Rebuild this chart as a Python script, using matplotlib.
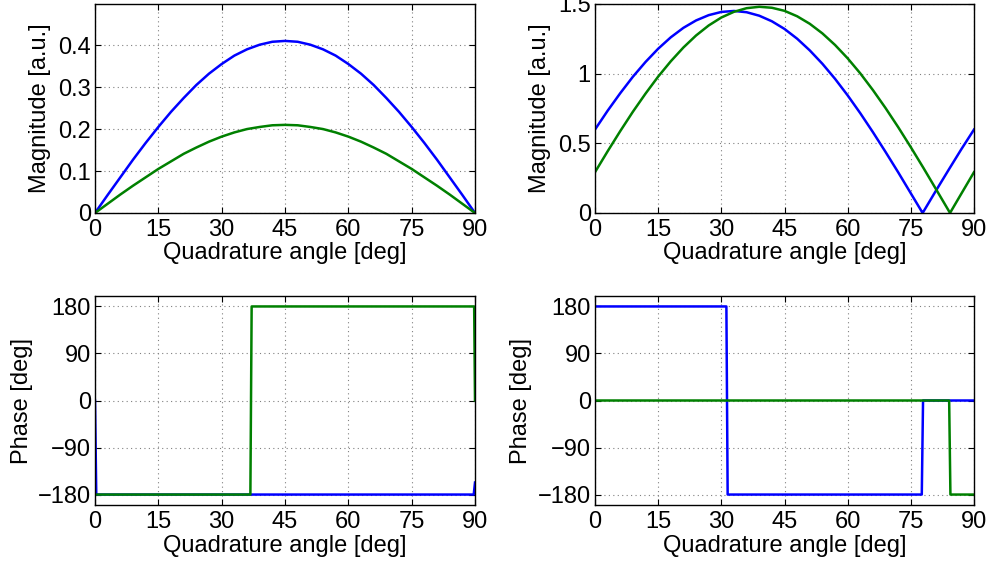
import matplotlib
matplotlib.use("Agg")
import matplotlib.pyplot as plt

plt.rcParams['font.family'] = ['Liberation Sans', 'DejaVu Sans']
plt.rcParams['axes.unicode_minus'] = True

BLUE = (0, 0, 1)
GREEN = (0, 0.5, 0)

# ---- magnitude, left panel ----
mag_l_angle = [0, 3, 6, 9, 12, 15, 18, 21, 24, 27, 30, 33, 36, 39, 42, 45,
               48, 51, 54, 57, 60, 63, 66, 69, 72, 75, 78, 81, 84, 87, 90]
mag_l_blue = [0, 0.043, 0.085, 0.127, 0.167, 0.205, 0.241, 0.274, 0.305, 0.332,
              0.355, 0.375, 0.390, 0.401, 0.408, 0.410, 0.408, 0.401, 0.390,
              0.375, 0.355, 0.332, 0.305, 0.274, 0.241, 0.205, 0.167, 0.127,
              0.085, 0.043, 0]
mag_l_green = [0, 0.022, 0.044, 0.065, 0.085, 0.105, 0.123, 0.141, 0.156, 0.170,
               0.182, 0.192, 0.200, 0.205, 0.209, 0.210, 0.209, 0.205, 0.200,
               0.192, 0.182, 0.170, 0.156, 0.141, 0.123, 0.105, 0.085, 0.065,
               0.044, 0.022, 0]

# ---- magnitude, right panel ----
mag_r_blue_angle = [0, 3, 6, 9, 12, 15, 18, 21, 24, 27, 30, 33, 36, 39, 42, 45,
                    48, 51, 54, 57, 60, 63, 66, 69, 72, 75, 77.8, 78, 81, 84,
                    87, 90]
mag_r_blue = [0.599, 0.734, 0.860, 0.978, 1.084, 1.179, 1.261, 1.329, 1.382,
              1.420, 1.443, 1.450, 1.441, 1.416, 1.376, 1.321, 1.251, 1.167,
              1.071, 0.963, 0.844, 0.716, 0.580, 0.438, 0.292, 0.141, 0.0,
              0.010, 0.162, 0.311, 0.458, 0.599]
mag_r_green_angle = [0, 3, 6, 9, 12, 15, 18, 21, 24, 27, 30, 33, 36, 39, 42, 45,
                     48, 51, 54, 57, 60, 63, 66, 69, 72, 75, 78, 81, 84, 84.3,
                     87, 90]
mag_r_green = [0.293, 0.443, 0.588, 0.727, 0.857, 0.979, 1.089, 1.188, 1.274,
               1.346, 1.403, 1.444, 1.470, 1.480, 1.473, 1.451, 1.412, 1.358,
               1.289, 1.206, 1.110, 1.002, 0.882, 0.753, 0.616, 0.472, 0.323,
               0.170, 0.016, 0.0, 0.139, 0.293]

# ---- phase, left panel ----
ph_l_blue_angle = [0, 0.3, 89.7, 90]
ph_l_blue = [0, -180, -180, -157]
ph_l_green_angle = [0, 36.8, 37.1, 89.8, 90]
ph_l_green = [-180, -180, 180, 180, 0]

# ---- phase, right panel ----
ph_r_blue_angle = [0, 31.2, 31.5, 77.6, 77.9, 90]
ph_r_blue = [180, 180, -180, -180, 0, 0]
ph_r_green_angle = [0, 84.1, 84.4, 90]
ph_r_green = [0, 0, -180, -180]

x_ticks = [0, 15, 30, 45, 60, 75, 90]
mag_l_ticks = [0, 0.1, 0.2, 0.3, 0.4]
mag_r_ticks = [0, 0.5, 1, 1.5]
mag_r_ticklabels = ['0', '0.5', '1', '1.5']
phase_ticks = [-180, -90, 0, 90, 180]

FS = 17
LW = 1.8

fig = plt.figure(figsize=(9.92, 5.67), dpi=100)

W, H = 992, 567


def make_axes(left, right, top, bottom):
    return fig.add_axes([left / W, 1 - bottom / H, (right - left) / W,
                         (bottom - top) / H])


ax_ml = make_axes(95, 475, 4, 213)
ax_mr = make_axes(595, 974, 4, 213)
ax_pl = make_axes(95, 475, 296, 505)
ax_pr = make_axes(595, 974, 296, 505)

ax_ml.plot(mag_l_angle, mag_l_blue, color=BLUE, lw=LW)
ax_ml.plot(mag_l_angle, mag_l_green, color=GREEN, lw=LW)
ax_mr.plot(mag_r_blue_angle, mag_r_blue, color=BLUE, lw=LW)
ax_mr.plot(mag_r_green_angle, mag_r_green, color=GREEN, lw=LW)
ax_pl.plot(ph_l_blue_angle, ph_l_blue, color=BLUE, lw=LW)
ax_pl.plot(ph_l_green_angle, ph_l_green, color=GREEN, lw=LW)
ax_pr.plot(ph_r_blue_angle, ph_r_blue, color=BLUE, lw=LW)
ax_pr.plot(ph_r_green_angle, ph_r_green, color=GREEN, lw=LW)

ax_ml.set_ylim(0, 0.498)
ax_ml.set_yticks(mag_l_ticks)
ax_ml.set_yticklabels(['0', '0.1', '0.2', '0.3', '0.4'])
ax_mr.set_ylim(0, 1.5)
ax_mr.set_yticks(mag_r_ticks)
ax_mr.set_yticklabels(mag_r_ticklabels)
for ax in (ax_pl, ax_pr):
    ax.set_ylim(-200, 200)
    ax.set_yticks(phase_ticks)
    ax.set_yticklabels(['\u2212180', '\u221290', '0', '90', '180'])

for ax in (ax_ml, ax_mr, ax_pl, ax_pr):
    ax.set_xlim(0, 90)
    ax.set_xticks(x_ticks)
    ax.set_xticklabels([str(t) for t in x_ticks])
    ax.tick_params(direction='in', length=4, width=0.8, top=True, right=True,
                   labelsize=FS, colors='black')
    ax.tick_params(axis='x', pad=4)
    ax.tick_params(axis='y', pad=3)
    ax.grid(True, color=(0.5, 0.5, 0.5), linestyle=(0, (1, 3)), lw=0.8)
    for s in ax.spines.values():
        s.set_linewidth(1.0)
        s.set_color('black')

for ax in (ax_ml, ax_mr, ax_pl, ax_pr):
    ax.set_xlabel('Quadrature angle [deg]', fontsize=FS, va='center')
ax_ml.xaxis.set_label_coords(0.5, -0.19)
ax_mr.xaxis.set_label_coords(0.5, -0.19)
ax_pl.xaxis.set_label_coords(0.5, -0.198)
ax_pr.xaxis.set_label_coords(0.5, -0.198)

ax_ml.set_ylabel('Magnitude [a.u.]', fontsize=FS, va='center')
ax_mr.set_ylabel('Magnitude [a.u.]', fontsize=FS, va='center')
ax_pl.set_ylabel('Phase [deg]', fontsize=FS, va='center')
ax_pr.set_ylabel('Phase [deg]', fontsize=FS, va='center')
ax_ml.yaxis.set_label_coords(-0.144, 0.5)
ax_mr.yaxis.set_label_coords(-0.145, 0.5)
ax_pl.yaxis.set_label_coords(-0.192, 0.5)
ax_pr.yaxis.set_label_coords(-0.196, 0.5)

fig.savefig('out.png', dpi=100, facecolor='white')
